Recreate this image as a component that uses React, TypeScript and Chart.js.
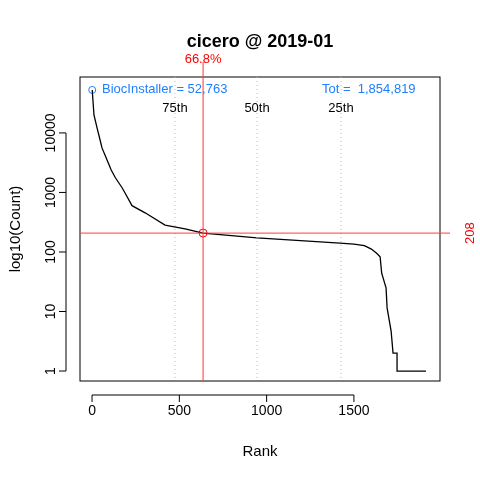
import { useEffect, useRef } from "react";
import { Chart, registerables } from "chart.js";

Chart.register(...registerables);

const RANKS = [1, 11, 29, 46, 57, 86, 109, 132, 172, 189, 229, 304, 418, 533, 636, 945, 1420, 1500, 1560, 1600, 1630, 1650, 1659, 1684, 1690, 1713, 1724, 1747, 1747, 1913];
const COUNTS = [52763, 20000, 12000, 7600, 5600, 3500, 2400, 1800, 1200, 980, 600, 455, 283, 245, 208, 172, 141, 136, 128, 112, 95, 83, 44, 25, 11.5, 4.7, 2, 2, 1, 1];
const X_TICKS = [0, 500, 1000, 1500];
const Y_TICKS = [1, 10, 100, 1000, 10000];
const QUANTILES = [
  { label: "75th", rank: 475 },
  { label: "50th", rank: 945 },
  { label: "25th", rank: 1426 },
];
const CUT_RANK = 636;
const CUT_COUNT = 208;
const TOP = { rank: 1, count: 52763 };
const FONT = "Liberation Sans, Arial, sans-serif";

const overlay = {
  id: "overlay",
  afterDatasetsDraw(chart: Chart) {
    const ctx = chart.ctx;
    const xs = chart.scales.x;
    const ys = chart.scales.y;
    const a = chart.chartArea;
    ctx.save();
    // box
    ctx.strokeStyle = "#000";
    ctx.lineWidth = 1;
    ctx.strokeRect(a.left, a.top, a.right - a.left, a.bottom - a.top);
    // quantile lines
    ctx.setLineDash([1, 3]);
    ctx.strokeStyle = "#bbb";
    QUANTILES.forEach((q) => {
      const px = xs.getPixelForValue(q.rank);
      ctx.beginPath();
      ctx.moveTo(px, a.top);
      ctx.lineTo(px, a.bottom);
      ctx.stroke();
    });
    ctx.setLineDash([]);
    ctx.fillStyle = "#000";
    ctx.font = `13px ${FONT}`;
    ctx.textAlign = "center";
    ctx.textBaseline = "middle";
    QUANTILES.forEach((q) => ctx.fillText(q.label, xs.getPixelForValue(q.rank), 108));
    // red cross
    const cx = xs.getPixelForValue(CUT_RANK);
    const cy = ys.getPixelForValue(CUT_COUNT);
    ctx.strokeStyle = "rgba(255,60,60,0.8)";
    ctx.lineWidth = 1.3;
    ctx.beginPath();
    ctx.moveTo(cx, 62);
    ctx.lineTo(cx, a.bottom);
    ctx.moveTo(a.left, cy);
    ctx.lineTo(450, cy);
    ctx.stroke();
    ctx.fillStyle = "#f00";
    ctx.fillText("66.8%", cx, 59);
    ctx.save();
    ctx.translate(470, cy);
    ctx.rotate(-Math.PI / 2);
    ctx.fillText(String(CUT_COUNT), 0, 0);
    ctx.restore();
    // blue labels
    ctx.fillStyle = "#1e7fff";
    ctx.textAlign = "left";
    ctx.fillText("BiocInstaller = 52,763", 102, 89);
    ctx.fillText("Tot =  1,854,819", 322, 89);
    // axes
    ctx.strokeStyle = "#000";
    ctx.lineWidth = 1;
    ctx.fillStyle = "#000";
    ctx.font = `14px ${FONT}`;
    const ay = 395;
    ctx.beginPath();
    ctx.moveTo(xs.getPixelForValue(X_TICKS[0]), ay);
    ctx.lineTo(xs.getPixelForValue(X_TICKS[X_TICKS.length - 1]), ay);
    X_TICKS.forEach((t) => {
      const px = xs.getPixelForValue(t);
      ctx.moveTo(px, ay);
      ctx.lineTo(px, ay + 7);
    });
    const ax = 66;
    ctx.moveTo(ax, ys.getPixelForValue(Y_TICKS[0]));
    ctx.lineTo(ax, ys.getPixelForValue(Y_TICKS[Y_TICKS.length - 1]));
    Y_TICKS.forEach((t) => {
      const py = ys.getPixelForValue(t);
      ctx.moveTo(ax, py);
      ctx.lineTo(ax - 7, py);
    });
    ctx.stroke();
    ctx.textAlign = "center";
    X_TICKS.forEach((t) => ctx.fillText(String(t), xs.getPixelForValue(t), 411));
    Y_TICKS.forEach((t) => {
      ctx.save();
      ctx.translate(51, ys.getPixelForValue(t));
      ctx.rotate(-Math.PI / 2);
      ctx.fillText(String(t), 0, 0);
      ctx.restore();
    });
    ctx.font = `15px ${FONT}`;
    ctx.fillText("Rank", 260, 452);
    ctx.save();
    ctx.translate(16, 229);
    ctx.rotate(-Math.PI / 2);
    ctx.fillText("log10(Count)", 0, 0);
    ctx.restore();
    ctx.font = `bold 18px ${FONT}`;
    ctx.fillText("cicero @ 2019-01", 260, 42);
    ctx.restore();
  },
};

export default function App() {
  const ref = useRef<HTMLCanvasElement>(null);
  useEffect(() => {
    if (!ref.current) return;
    const chart = new Chart(ref.current, {
      type: "line",
      data: {
        datasets: [
          {
            data: RANKS.map((r, i) => ({ x: r, y: COUNTS[i] })),
            borderColor: "#000",
            borderWidth: 1.3,
            pointRadius: 0,
            tension: 0,
          },
          {
            data: [{ x: TOP.rank, y: TOP.count }],
            borderColor: "#1e7fff",
            backgroundColor: "transparent",
            pointRadius: 3.5,
            showLine: false,
          },
          {
            data: [{ x: CUT_RANK, y: CUT_COUNT }],
            borderColor: "#f00",
            backgroundColor: "transparent",
            pointRadius: 4,
            showLine: false,
          },
        ],
      },
      options: {
        responsive: false,
        animation: false,
        layout: { padding: { left: 80, right: 40, top: 77, bottom: 99 } },
        plugins: { legend: { display: false }, tooltip: { enabled: false } },
        scales: {
          x: { type: "linear", min: -69, max: 1993, display: false },
          y: { type: "logarithmic", min: 0.68, max: 87000, display: false },
        },
      },
      plugins: [overlay],
    });
    return () => chart.destroy();
  }, []);
  return (
    <div style={{ position: "absolute", left: 0, top: 0, background: "#fff" }}>
      <canvas ref={ref} width={480} height={480} />
    </div>
  );
}
